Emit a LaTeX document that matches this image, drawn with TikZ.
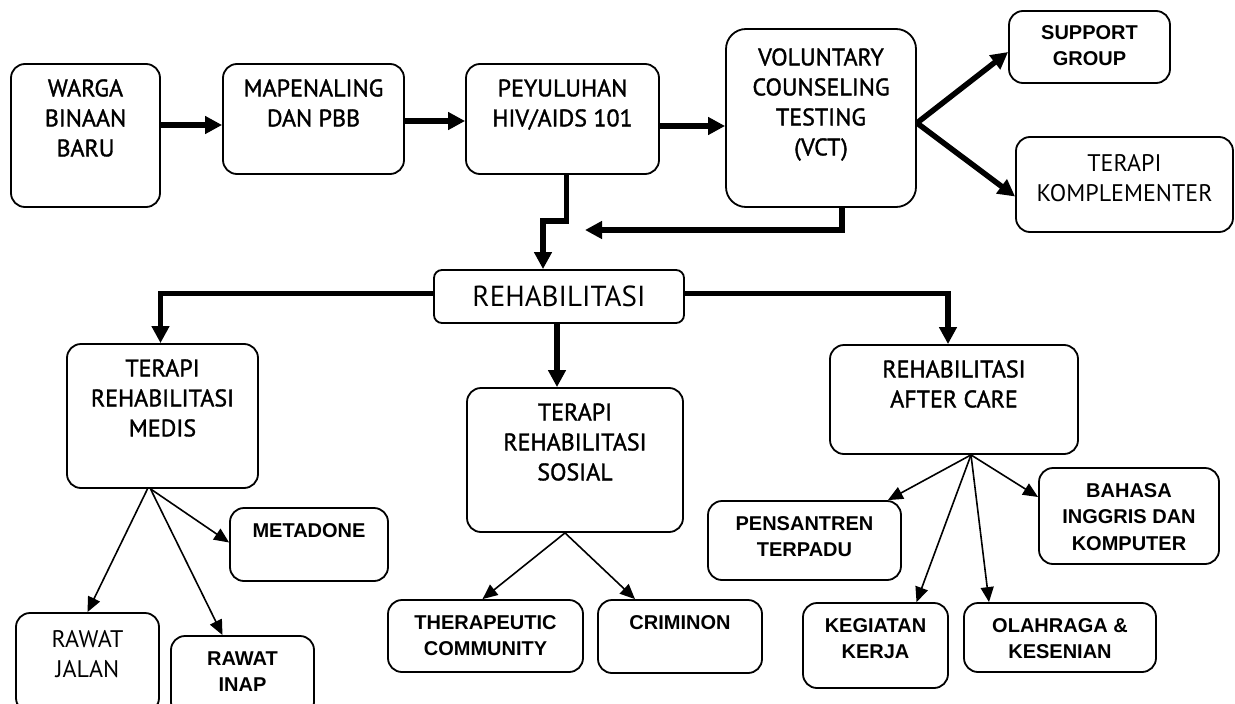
\documentclass[tikz,border=0pt]{standalone}
\usepackage{fontspec}
\newfontfamily\tahfont[FakeBold=1.4]{PT Sans}
\newfontfamily\tahlight{PT Sans}
\newfontfamily\arfont{Liberation Sans}
\usetikzlibrary{arrows.meta}

\begin{document}
\begin{tikzpicture}[x=1pt,y=-1pt,
  box/.style={draw, line width=1.8pt, rounded corners=14pt, inner sep=0pt},
  txt/.style={anchor=north, inner sep=0pt, align=center, yshift=-16pt},
  tah/.style={font=\tahfont\fontsize{24}{30}\selectfont},
  thin/.style={font=\tahlight\fontsize{24}{30.5}\selectfont},
  arb/.style={font=\arfont\bfseries\fontsize{20}{26.5}\selectfont},
  thk/.style={line width=5.5pt, -{Triangle[length=17pt,width=17pt]}},
  thn/.style={line width=1.6pt, -{Triangle[length=15pt,width=13pt]}}]
\clip (0,0) rectangle (1235,704);

% top row
\node[box, minimum width=149pt, minimum height=143pt, label={[txt,tah]north:WARGA\\BINAAN\\BARU}] (warga) at (85.5,135.5) {};
\node[box, minimum width=181pt, minimum height=110pt, label={[txt,tah]north:MAPENALING\\DAN PBB}] (mapen) at (313.5,119) {};
\node[box, minimum width=193pt, minimum height=110pt, label={[txt,tah]north:PEYULUHAN\\HIV/AIDS 101}] (peyul) at (562.5,119) {};
\node[box, minimum width=190pt, minimum height=178pt, rounded corners=20pt, label={[txt,tah,yshift=-4pt]north:VOLUNTARY\\COUNSELING\\TESTING\\(VCT)}] (vct) at (821,118) {};
\node[box, minimum width=161pt, minimum height=72pt, label={[txt,arb,yshift=1pt]north:SUPPORT\\GROUP}] (support) at (1089.5,47) {};
\node[box, minimum width=217pt, minimum height=95pt, label={[txt,thin,yshift=-2pt]north:TERAPI\\KOMPLEMENTER}] (komp) at (1124.5,184.5) {};

% rehabilitasi
\node[box, font=\tahlight\fontsize{29}{33}\selectfont, minimum width=250pt, minimum height=53pt, rounded corners=8pt] (rehab) at (559,296.5) {REHABILITASI};
\node[box, minimum width=191pt, minimum height=144pt, label={[txt,tah]north:TERAPI\\REHABILITASI\\MEDIS}] (medis) at (162.5,416) {};
\node[box, minimum width=216pt, minimum height=144pt, label={[txt,tah]north:TERAPI\\REHABILITASI\\SOSIAL}] (sosial) at (575,460) {};
\node[box, minimum width=248pt, minimum height=109pt, label={[txt,tah]north:REHABILITASI\\AFTER CARE}] (after) at (954,399.5) {};

% bottom row
\node[box, minimum width=158pt, minimum height=73pt, label={[txt,arb]north:METADONE}] (metad) at (309,544.5) {};
\node[box, minimum width=143pt, minimum height=99pt, label={[txt,thin,yshift=-2pt]north:RAWAT\\JALAN}] (jalan) at (87.5,662.5) {};
\node[box, minimum width=143pt, minimum height=80pt, label={[txt,arb]north:RAWAT\\INAP}] (inap) at (242.5,676) {};
\node[box, minimum width=195pt, minimum height=72pt, label={[txt,arb]north:THERAPEUTIC\\COMMUNITY}] (thera) at (485.5,636) {};
\node[box, minimum width=164pt, minimum height=73pt, label={[txt,arb]north:CRIMINON}] (crim) at (680,636.5) {};
\node[box, minimum width=193pt, minimum height=79pt, label={[txt,arb]north:PENSANTREN\\TERPADU}] (pesan) at (804.5,540.5) {};
\node[box, minimum width=145pt, minimum height=85pt, label={[txt,arb]north:KEGIATAN\\KERJA}] (kegia) at (875.5,645.5) {};
\node[box, minimum width=192pt, minimum height=69pt, label={[txt,arb]north:OLAHRAGA \&\\KESENIAN}] (olahr) at (1060,637.5) {};
\node[box, minimum width=180pt, minimum height=96pt, label={[txt,arb]north:BAHASA\\INGGRIS DAN\\KOMPUTER}] (bahasa) at (1129,516) {};

\coordinate (vctend) at (585,230);

% thick connectors
\draw[thk] (warga.east |- 0,125) -- (mapen.west |- 0,125);
\draw[thk] (mapen.east |- 0,121) -- (peyul.west |- 0,121);
\draw[thk] (peyul.east |- 0,126) -- (vct.west |- 0,126);
\draw[thk] ([yshift=-5pt]vct.east) -- ([yshift=-5pt]support.west);
\draw[thk] ([yshift=-5pt]vct.east) -- ([yshift=-12pt]komp.west);
\draw[thk] ([xshift=4pt]peyul.south) -- ++(0,46) -| ([xshift=-16pt]rehab.north);
\draw[thk] ([xshift=21pt]vct.south) |- (vctend);
\draw[thk] ([yshift=3pt]rehab.west) -| ([xshift=-2pt]medis.north);
\draw[thk] ([yshift=3pt]rehab.east) -| ([xshift=-6pt]after.north);
\draw[thk] ([xshift=-2pt]rehab.south) -- ([xshift=-2pt]rehab.south |- sosial.north);

% thin connectors
\draw[thn] ([xshift=-15pt]medis.south) -- (jalan.north);
\draw[thn] ([xshift=-12pt]medis.south) -- ([xshift=-20pt]inap.north);
\draw[thn] ([xshift=-12pt]medis.south) -- ([yshift=2pt]metad.west);
\draw[thn] ([xshift=-10pt]sosial.south) -- ([xshift=-3pt]thera.north);
\draw[thn] ([xshift=-10pt]sosial.south) -- ([xshift=-45pt]crim.north);
\draw[thn] ([xshift=17pt]after.south) -- ([xshift=-14pt]pesan.north east);
\draw[thn] ([xshift=17pt]after.south) -- ([xshift=41pt]kegia.north);
\draw[thn] ([xshift=17pt]after.south) -- ([xshift=-71pt]olahr.north);
\draw[thn] ([xshift=17pt]after.south) -- ([yshift=19pt]bahasa.west);
\end{tikzpicture}
\end{document}
